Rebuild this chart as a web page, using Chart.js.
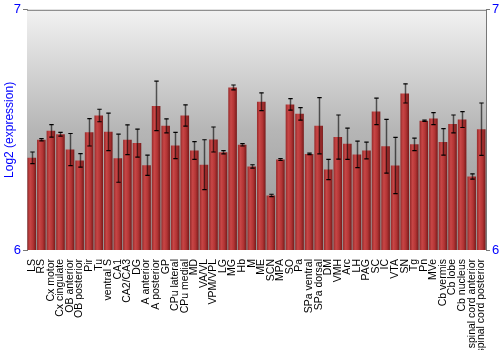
<!DOCTYPE html>
<html>
<head>
<meta charset="utf-8">
<script src="https://cdn.jsdelivr.net/npm/chart.js@4/dist/chart.umd.min.js"></script>
<style>
  html, body { margin: 0; padding: 0; background: #ffffff; }
  #wrap { width: 500px; height: 350px; position: relative; }
</style>
</head>
<body>
<div id="wrap"><canvas id="c" width="500" height="350"></canvas></div>
<script>
const categories = ["LS","RS","Cx motor","Cx cingulate","OB anterior","OB posterior","Pir","Tu","ventral S","CA1","CA2/CA3","DG","A anterior","A posterior","GP","CPu lateral","CPu medial","MD","VA/VL","VPM/VPL","LG","MG","Hb","M","ME","SCN","MPA","SO","Pa","SPa ventral","SPa dorsal","DM","VMH","Arc","LH","PAG","SC","IC","VTA","SN","Tg","Pn","MVe","Cb vermis","Cb lobe","Cb nucleus","spinal cord anterior","spinal cord posterior"];
const expression = [6.384,6.459,6.496,6.482,6.418,6.373,6.490,6.560,6.492,6.382,6.459,6.445,6.353,6.600,6.517,6.435,6.560,6.414,6.355,6.460,6.407,6.677,6.438,6.348,6.617,6.227,6.377,6.606,6.567,6.400,6.517,6.335,6.470,6.442,6.398,6.414,6.577,6.432,6.352,6.652,6.440,6.538,6.547,6.450,6.525,6.543,6.306,6.503];
const errors = [0.024,0.005,0.026,0.008,0.067,0.028,0.057,0.026,0.078,0.100,0.062,0.058,0.042,0.103,0.029,0.055,0.044,0.037,0.104,0.052,0.007,0.010,0.005,0.007,0.037,0.005,0.004,0.024,0.026,0.003,0.117,0.042,0.092,0.065,0.055,0.035,0.055,0.112,0.117,0.040,0.026,0.003,0.025,0.055,0.037,0.033,0.011,0.109];
const yTicks = [6, 7];
const yTitle = "Log2 (expression)";

const BAR_FRAC = 0.9;

function barFill(c) {
  const chart = c.chart;
  const xs = chart.scales && chart.scales.x;
  if (!xs || c.dataIndex == null || !isFinite(xs.width)) return '#b03030';
  const cx = xs.getPixelForValue(c.dataIndex);
  const w = (xs.width / categories.length) * BAR_FRAC;
  const g = chart.ctx.createLinearGradient(cx - w / 2, 0, cx + w / 2, 0);
  g.addColorStop(0, '#962a2a');
  g.addColorStop(0.3, '#c84646');
  g.addColorStop(0.65, '#b23434');
  g.addColorStop(1, '#761a1a');
  return g;
}

const bgPlugin = {
  id: 'bgGrad',
  beforeDatasetsDraw(chart) {
    const a = chart.chartArea, ctx = chart.ctx;
    const g = ctx.createLinearGradient(0, a.top, 0, a.bottom);
    g.addColorStop(0, '#f2f2f2');
    g.addColorStop(0.5, '#b6b6b6');
    g.addColorStop(1, '#949494');
    ctx.save();
    ctx.fillStyle = g;
    ctx.fillRect(a.left, a.top, a.right - a.left, a.bottom - a.top);
    ctx.strokeStyle = '#777777';
    ctx.lineWidth = 1;
    ctx.beginPath();
    ctx.moveTo(a.left, a.top + 0.5);
    ctx.lineTo(a.right, a.top + 0.5);
    ctx.stroke();
    ctx.restore();
  }
};

const errPlugin = {
  id: 'errBars',
  afterDatasetsDraw(chart) {
    const ctx = chart.ctx, ys = chart.scales.y;
    const meta = chart.getDatasetMeta(0);
    ctx.save();
    meta.data.forEach((el, i) => {
      const x = Math.round(el.x) + 0.5;
      const yHi = ys.getPixelForValue(expression[i] + errors[i]);
      const yLo = ys.getPixelForValue(expression[i] - errors[i]);
      ctx.strokeStyle = 'rgba(0,0,0,0.6)';
      ctx.lineWidth = 1.5;
      ctx.beginPath();
      ctx.moveTo(x, yHi);
      ctx.lineTo(x, yLo);
      ctx.stroke();
      ctx.strokeStyle = '#000000';
      ctx.lineWidth = 1.2;
      ctx.beginPath();
      ctx.moveTo(x - 2.2, yHi); ctx.lineTo(x + 2.2, yHi);
      ctx.moveTo(x - 2.2, yLo); ctx.lineTo(x + 2.2, yLo);
      ctx.stroke();
    });
    ctx.restore();
  }
};

new Chart(document.getElementById('c'), {
  type: 'bar',
  data: {
    labels: categories,
    datasets: [{
      data: expression,
      backgroundColor: barFill,
      borderWidth: 0,
      barPercentage: BAR_FRAC,
      categoryPercentage: 1.0,
      yAxisID: 'y'
    }]
  },
  options: {
    responsive: false,
    animation: false,
    devicePixelRatio: 1,
    layout: { padding: { top: 9, left: 0, right: 0, bottom: 0 } },
    plugins: { legend: { display: false }, tooltip: { enabled: false } },
    scales: {
      x: {
        offset: true,
        grid: { display: false },
        border: { display: false },
        ticks: {
          autoSkip: false, minRotation: 90, maxRotation: 90,
          color: '#000000', padding: 1,
          font: { family: 'Liberation Sans', size: 10.5 }
        },
        afterFit(s) { s.height = 100; }
      },
      y: {
        position: 'left',
        min: 6, max: 7,
        afterBuildTicks(s) { s.ticks = yTicks.map(v => ({ value: v })); },
        grid: { display: true, drawOnChartArea: false, drawTicks: true, tickLength: 4, color: '#777777' },
        border: { display: true, color: '#777777' },
        ticks: { color: '#0000ff', padding: 2, font: { family: 'Liberation Sans', size: 13 } },
        title: { display: true, text: yTitle, color: '#0000ff', padding: { top: 2, bottom: 0 }, font: { family: 'Liberation Sans', size: 12 } },
        afterFit(s) { s.width = 27; }
      },
      y2: {
        position: 'right',
        min: 6, max: 7,
        afterBuildTicks(s) { s.ticks = yTicks.map(v => ({ value: v })); },
        grid: { display: true, drawOnChartArea: false, drawTicks: true, tickLength: 4, color: '#777777' },
        border: { display: true, color: '#777777' },
        ticks: { color: '#0000ff', padding: 2, font: { family: 'Liberation Sans', size: 13 } },
        afterFit(s) { s.width = 14; }
      }
    }
  },
  plugins: [bgPlugin, errPlugin]
});
</script>
</body>
</html>
